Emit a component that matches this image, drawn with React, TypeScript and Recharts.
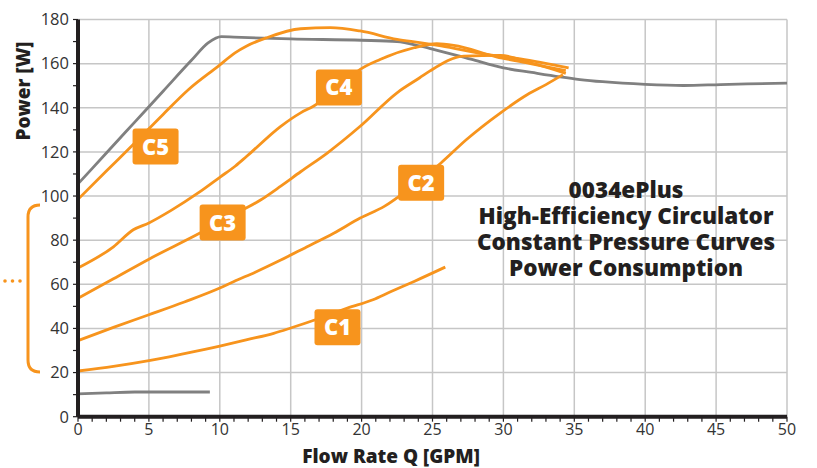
import { LineChart, Line, XAxis, YAxis, ReferenceLine, ReferenceDot } from "recharts";

// flow rate Q [GPM] vs power [W]
const maxPower = [
  [0, 105.5], [2, 119.5], [4, 133.5], [6, 147.5], [8, 161.5], [9.2, 169.5], [10.1, 172.2], [11, 172],
  [15, 171.2], [20, 170.6], [22.5, 170], [24.1, 168], [25, 166.6], [27.7, 162], [30, 158.1],
  [32, 156], [34, 154], [35.4, 152.8], [37, 151.8], [40, 150.6], [42.7, 150.1], [45.3, 150.5], [50, 151.2],
];
const minPower = [[0, 10.3], [2, 10.8], [4, 11.2], [9.3, 11.2]];
const c1 = [
  [0, 20.7], [2.5, 22.8], [5, 25.4], [7.5, 28.6], [10, 32], [12, 35], [13.8, 37.8], [15, 40.2],
  [17, 44.5], [19, 49.2], [20.8, 53], [22, 56.5], [23.7, 61.3], [25.9, 67.8],
];
const c2 = [
  [0, 34.5], [2.5, 40.5], [5, 46.2], [7.5, 52], [10, 58.3], [11, 61.3], [12.5, 65.5], [14.3, 71],
  [16, 76.5], [18, 83], [19.9, 90], [21.6, 95.3], [23.5, 104], [25.6, 115], [27.4, 125.6],
  [29.8, 137.7], [31.7, 146], [33, 150.5], [34.2, 155],
];
const c3 = [
  [0, 53.7], [2.5, 62.5], [5, 71.4], [8.6, 83.2], [10.5, 90], [12.9, 98.3], [14.3, 104.5],
  [15.7, 111], [17.6, 119.6], [19.9, 131.6], [22.5, 146.8], [24.1, 153.6], [24.8, 156.6],
  [27.2, 163.4], [29.8, 163.7], [31.9, 160.4], [34.4, 155.6],
];
const c4 = [
  [0, 67.4], [2.5, 77], [3.9, 84.7], [5, 87.8], [6.6, 93.6], [8.5, 101.5], [10, 108.5], [11.1, 113.6],
  [11.9, 118], [14.3, 131.6], [15.7, 137.7], [16.6, 140.7], [18.4, 149], [19.9, 157.4], [21.3, 161.9],
  [23.7, 167.2], [25.3, 169], [26.5, 168.3], [29.5, 163.1], [31.9, 160], [34.4, 156.8],
];
const c5 = [
  [0, 98.5], [2, 111.3], [4, 124], [6, 137], [7.8, 148.3], [9.9, 158.9], [11.1, 165], [11.9, 168],
  [13.3, 171.7], [15.7, 175.8], [17.8, 176.3], [19.9, 174.8], [22.5, 171], [24.1, 169.5], [25.6, 168],
  [28.8, 164.2], [31.2, 162.2], [34.6, 158.1],
];

// curve tags: name, Q, W
const tags: [string, number, number][] = [
  ["C5", 5.47, 122.4],
  ["C3", 10.2, 88],
  ["C4", 18.4, 149.2],
  ["C2", 24.2, 106],
  ["C1", 18.3, 40.5],
];

const xLabels = [0, 5, 10, 15, 20, 25, 30, 35, 40, 45, 50];
const yLabels = [0, 20, 40, 60, 80, 100, 120, 140, 160, 180];
const xTicks = Array.from({ length: 51 }, (_, i) => i);
const yTicks = Array.from({ length: 19 }, (_, i) => i * 10);

const titleLines = ["0034ePlus", "High-Efficiency Circulator", "Constant Pressure Curves", "Power Consumption"];

const ORANGE = "#f7941d";
const GREY = "#808080";
const INK = "#231f20";
const FONT = "'Open Sans', sans-serif";

const rows = (pts: number[][]) => pts.map(([q, w]) => ({ q, w }));

const tagShape = (name: string) => (props: any) => {
  const { cx, cy } = props;
  return (
    <g>
      <rect x={cx - 23} y={cy - 18} width={46} height={36} rx={3} fill={ORANGE} />
      <text x={cx} y={cy + 8} textAnchor="middle" fill="#fff" fontFamily={FONT} fontWeight={800} fontSize={22}>
        {name}
      </text>
    </g>
  );
};

export default function App() {
  const series = [
    { pts: minPower, color: GREY },
    { pts: maxPower, color: GREY },
    { pts: c1, color: ORANGE },
    { pts: c2, color: ORANGE },
    { pts: c3, color: ORANGE },
    { pts: c4, color: ORANGE },
    { pts: c5, color: ORANGE },
  ];

  return (
    <div style={{ position: "relative", width: 817, height: 468, background: "#fff" }}>
      <style>{"body{margin:0}"}</style>
      <LineChart
        width={817}
        height={468}
        margin={{ top: 19.5, right: 30, bottom: 21.3, left: 18 }}
        style={{ position: "absolute", left: 0, top: 0 }}
      >
        <XAxis
          dataKey="q"
          type="number"
          domain={[0, 50]}
          ticks={xTicks}
          interval={0}
          height={30}
          tickFormatter={(v) => (v % 5 === 0 ? String(v) : "")}
          tick={{ fill: "#333", fontSize: 16, fontFamily: FONT }}
          tickSize={5}
          tickLine={{ stroke: INK, strokeWidth: 1.2 }}
          axisLine={{ stroke: INK, strokeWidth: 4 }}
        />
        <YAxis
          type="number"
          domain={[0, 180]}
          ticks={yTicks}
          interval={0}
          width={60}
          tickFormatter={(v) => (v % 20 === 0 ? String(v) : "")}
          tick={{ fill: "#333", fontSize: 16.5, fontFamily: FONT }}
          tickSize={5}
          tickMargin={4}
          tickLine={{ stroke: INK, strokeWidth: 1.2 }}
          axisLine={{ stroke: INK, strokeWidth: 4 }}
        />
        {xLabels.filter((v) => v > 0).map((v) => (
          <ReferenceLine key={"x" + v} x={v} stroke="#c6c6c6" strokeWidth={1.5} />
        ))}
        {yLabels.filter((v) => v > 0).map((v) => (
          <ReferenceLine key={"y" + v} y={v} stroke="#c6c6c6" strokeWidth={1.5} />
        ))}
        {series.map((s, i) => (
          <Line
            key={i}
            data={rows(s.pts)}
            dataKey="w"
            type="monotone"
            stroke={s.color}
            strokeWidth={2.8}
            dot={false}
            activeDot={false}
            isAnimationActive={false}
          />
        ))}
        {tags.map(([name, q, w]) => (
          <ReferenceDot key={name} x={q} y={w} r={0} shape={tagShape(name)} />
        ))}
      </LineChart>
      <svg width={817} height={468} style={{ position: "absolute", left: 0, top: 0, pointerEvents: "none" }}>
        <path d="M40,205 Q28,205 28,217 L28,360 Q28,372 40,372" fill="none" stroke={ORANGE} strokeWidth={3} />
        <circle cx={5} cy={281} r={1.8} fill={ORANGE} />
        <circle cx={12.5} cy={281} r={1.8} fill={ORANGE} />
        <circle cx={20} cy={281} r={1.8} fill={ORANGE} />
        <text
          transform="translate(30,91) rotate(-90)"
          textAnchor="middle"
          fill={INK}
          fontFamily={FONT}
          fontWeight={800}
          fontSize={19}
        >
          Power [W]
        </text>
        <text x={391} y={463} textAnchor="middle" fill={INK} fontFamily={FONT} fontWeight={800} fontSize={19}>
          Flow Rate Q [GPM]
        </text>
        <text x={626} y={198} textAnchor="middle" fill={INK} fontFamily={FONT} fontWeight={800} fontSize={22.5}>
          {titleLines.map((t, i) => (
            <tspan key={t} x={626} dy={i === 0 ? 0 : 26}>
              {t}
            </tspan>
          ))}
        </text>
      </svg>
    </div>
  );
}
